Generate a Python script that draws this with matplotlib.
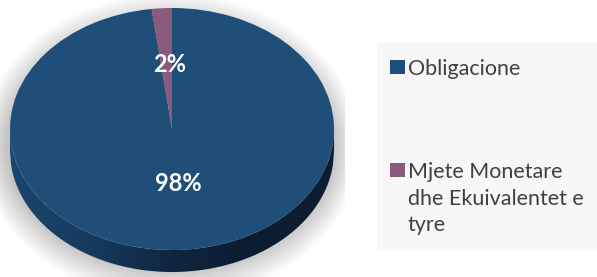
import numpy as np
import matplotlib
matplotlib.use("Agg")
import matplotlib.pyplot as plt
from matplotlib.patches import Rectangle, Polygon, Ellipse
from matplotlib.colors import LinearSegmentedColormap

categories = ["Obligacione", "Mjete Monetare dhe Ekuivalentet e tyre"]
legend_labels = ["Obligacione", "Mjete Monetare\ndhe Ekuivalentet e\ntyre"]
values = [98, 2]
pct_labels = ["98%", "2%"]
colors = ["#1F4E79", "#8A5A7C"]

W, H = 597, 277
fig = plt.figure(figsize=(W / 100, H / 100), dpi=100)
fig.patch.set_facecolor("white")

# pie geometry in pixels
cx, cy = 172, 129      # centre of top face
a, b = 162, 121        # semi-axes
depth_px = 22

x0, x1 = 0, 345
y0, y1 = 0, 277
ax = fig.add_axes([x0 / W, 1 - y1 / H, (x1 - x0) / W, (y1 - y0) / H])
wedges, _ = ax.pie(values, colors=colors, startangle=90, counterclock=False,
                   radius=1, wedgeprops=dict(linewidth=0), labels=None)
ax.set_aspect("auto")
ax.set_xlim((x0 - cx) / a, (x1 - cx) / a)
ax.set_ylim((cy - y1) / b, (cy - y0) / b)
ax.axis("off")

d = depth_px / b

# soft shadow
for k in range(12, 0, -1):
    e = Ellipse((-0.01, -d * 0.8), 2 + 0.014 * k * 2, 2 + 0.022 * k * 2,
                facecolor="black", edgecolor="none", alpha=0.02, zorder=0)
    ax.add_patch(e)

# side wall
xs = np.linspace(-1, 1, 300)
top = -np.sqrt(np.clip(1 - xs ** 2, 0, 1))
poly_xy = np.concatenate([np.column_stack([xs, top]),
                          np.column_stack([xs[::-1], top[::-1] - d])])
side = Polygon(poly_xy, closed=True, facecolor="none", edgecolor="none", zorder=1)
ax.add_patch(side)
cmap = LinearSegmentedColormap.from_list(
    "side", ["#1c456d", "#163a5e", "#0f2540", "#0c1c30", "#0d1e33"])
grad = np.linspace(0, 1, 256).reshape(1, -1)
im = ax.imshow(grad, cmap=cmap, extent=[-1, 1, -1 - d, 0], aspect="auto",
               zorder=1, interpolation="bilinear")
im.set_clip_path(side)

for w in wedges:
    w.set_zorder(2)

ax.text((170 - cx) / a, (cy - 64) / b, pct_labels[1], color="white",
        fontsize=17, fontweight="bold", family="Lato", ha="center", va="center", zorder=3)
ax.text((178 - cx) / a, (cy - 183) / b, pct_labels[0], color="white",
        fontsize=17, fontweight="bold", family="Lato", ha="center", va="center", zorder=3)

# legend drawn in pixel coordinates
lax = fig.add_axes([0, 0, 1, 1], facecolor="none")
lax.set_xlim(0, W)
lax.set_ylim(H, 0)
lax.axis("off")
lax.add_patch(Rectangle((377, 43), W - 377, 250 - 43, facecolor="#F7F7F7",
                        edgecolor="none"))
item_y = [67, 170]
for lab, col, y in zip(legend_labels, colors, item_y):
    lax.add_patch(Rectangle((390, y - 7), 15, 14, facecolor=col, edgecolor="none"))
    lax.text(408, y - 8, lab, fontsize=15.5, family="Lato", color="#404040",
             ha="left", va="top", linespacing=1.42)

fig.savefig("out.png", dpi=100)
